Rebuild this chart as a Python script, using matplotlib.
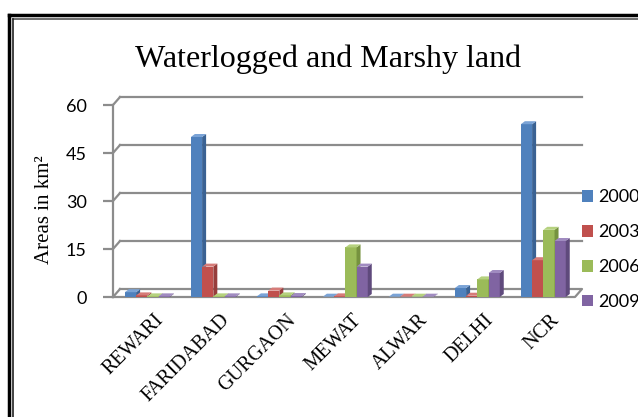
import matplotlib
matplotlib.use("Agg")
import matplotlib.pyplot as plt
import matplotlib.transforms as mtransforms
from matplotlib.patches import Polygon, Patch
from matplotlib.lines import Line2D

# data (areas in km2)
districts = ["REWARI", "FARIDABAD", "GURGAON", "MEWAT", "ALWAR", "DELHI", "NCR"]
years = ["2000", "2003", "2006", "2009"]
area_2000 = [1.5, 50.0, 0.2, 0.1, 0.1, 2.8, 54.0]
area_2003 = [0.5, 9.5, 2.0, 0.2, 0.1, 0.4, 11.5]
area_2006 = [0.2, 0.2, 0.5, 15.5, 0.1, 5.5, 21.0]
area_2009 = [0.2, 0.2, 0.3, 9.5, 0.1, 7.5, 17.5]
yticks = [0, 15, 30, 45, 60]

series = [area_2000, area_2003, area_2006, area_2009]
front_cols = ["#4F81BD", "#C0504D", "#9BBB59", "#8064A2"]
side_cols = ["#3A6293", "#963D3B", "#76923F", "#5F4A7C"]
top_cols = ["#7AA3D6", "#D67B78", "#B5D17E", "#A08BC0"]
grey = "#8C8C8C"

W, H = 638, 417
fig = plt.figure(figsize=(W / 100, H / 100), dpi=100)

def fx(px):
    return px / W

def fy(py):
    return 1 - py / H

# front plotting area in pixels
left, right, top, bottom = 113, 575, 105, 297
ax = fig.add_axes([fx(left), fy(bottom), fx(right - left), (bottom - top) / H])
ax.set_xlim(-0.5, len(districts) - 0.5)
ax.set_ylim(0, 60)
for s in ax.spines.values():
    s.set_visible(False)
ax.patch.set_alpha(0)

# 3d depth offset (pixels -> data units)
dpx, dpy = 7, 8          # wall / floor depth
bdx = 4 / ((right - left) / len(districts))
bdy = 3 / ((bottom - top) / 60)
wx = dpx / ((right - left) / len(districts))
wy = dpy / ((bottom - top) / 60)

# back wall gridlines and connectors
for t in yticks:
    ax.plot([-0.5, -0.5 + wx], [t, t + wy], color=grey, lw=1.6, clip_on=False, zorder=1)
    if t > 0:
        ax.plot([-0.5 + wx, 6.5 + wx], [t + wy, t + wy], color=grey, lw=1.6,
                clip_on=False, zorder=1)
# floor
ax.plot([-0.5, 6.5, 6.5 + wx, -0.5 + wx], [0, 0, wy, wy], color=grey, lw=1.6,
        clip_on=False, zorder=1)
# front axis line
ax.plot([-0.5, -0.5], [0, 60], color=grey, lw=1.6, clip_on=False, zorder=1)

# bars
bw = 0.17
z = 3
for i in range(len(districts)):
    for k, vals in enumerate(series):
        x0 = i + (k - 2) * bw + 0.02
        h = vals[i]
        ax.bar(x0, h, width=bw, align="edge", color=front_cols[k], zorder=z)
        side = Polygon([(x0 + bw, 0), (x0 + bw + bdx, bdy), (x0 + bw + bdx, h + bdy), (x0 + bw, h)],
                       closed=True, facecolor=side_cols[k], edgecolor="none", zorder=z)
        topf = Polygon([(x0, h), (x0 + bw, h), (x0 + bw + bdx, h + bdy), (x0 + bdx, h + bdy)],
                       closed=True, facecolor=top_cols[k], edgecolor="none", zorder=z)
        ax.add_patch(side)
        ax.add_patch(topf)
        z += 1

# ticks
ax.set_yticks(yticks)
ax.tick_params(axis="y", length=7, width=1.6, color=grey, pad=12, labelsize=13)
for lab in ax.get_yticklabels():
    lab.set_fontfamily("Lato")
ax.set_xticks(range(len(districts)))
ax.set_xticklabels(districts, rotation=45, ha="right", rotation_mode="anchor",
                   family="Liberation Serif", fontsize=14.5)
ax.tick_params(axis="x", length=0, pad=10)
shift = mtransforms.ScaledTranslation(8 / 100, 0, fig.dpi_scale_trans)
for lab in ax.get_xticklabels():
    lab.set_transform(lab.get_transform() + shift)

# title and y label
fig.text(fx(328), fy(67), "Waterlogged and Marshy land", ha="center", va="baseline",
         family="Liberation Serif", fontsize=23)
fig.text(fx(45), fy(210), "Areas in km²", rotation=90, ha="center", va="center",
         family="Liberation Serif", fontsize=15)

# legend
handles = [Patch(facecolor=c, edgecolor="none") for c in front_cols]
fig.legend(handles, years, loc="upper left", bbox_to_anchor=(fx(566), fy(173)),
           frameon=False, handlelength=0.6, handleheight=0.6, handletextpad=0.3,
           labelspacing=1.05, prop={"family": "Lato", "size": 13})

# double border
fig.add_artist(Line2D([fx(9), 1], [fy(15), fy(15)], color="black", lw=2.5))
fig.add_artist(Line2D([fx(9), fx(9)], [fy(15), 0], color="black", lw=2.5))
fig.add_artist(Line2D([fx(13), 1], [fy(19), fy(19)], color="#555555", lw=1.2))
fig.add_artist(Line2D([fx(13), fx(13)], [fy(19), 0], color="#222222", lw=1.2))

fig.savefig("out.png", dpi=100)
